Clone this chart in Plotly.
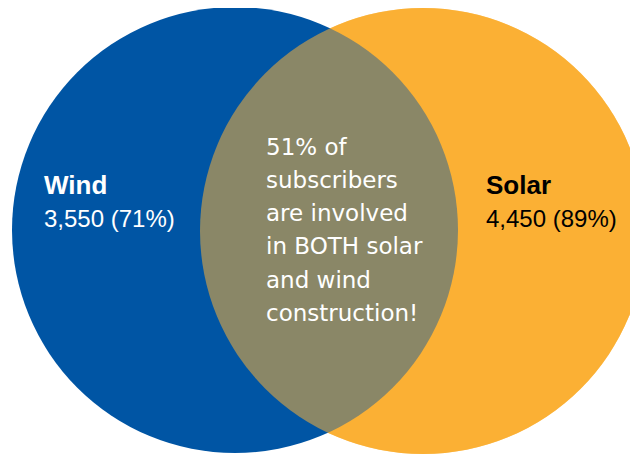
import plotly.graph_objects as go

W, H = 638, 454
OFF = 8  # page body margin compensation

# Data
sets = ["Wind", "Solar"]
counts = ["3,550", "4,450"]
pcts = ["71%", "89%"]
overlap_lines = ["51% of", "subscribers", "are involved", "in BOTH solar", "and wind", "construction!"]

blue = "#0055A4"
orange = "#FBB034"

# geometry (pixels)
c_wind = (235, 230)
c_solar = (423, 231)
r = 223

fig = go.Figure()

def circ(c, color, opacity=1.0):
    return dict(type="circle", xref="x", yref="y",
                x0=c[0] - r, x1=c[0] + r, y0=c[1] - r, y1=c[1] + r,
                fillcolor=color, opacity=opacity, line=dict(width=0), layer="below")

fig.add_shape(circ(c_solar, orange))
fig.add_shape(circ(c_wind, blue))
fig.add_shape(circ(c_solar, orange, 0.55))

side_font = "Liberation Sans, Arial, sans-serif"
center_font = "DejaVu Sans, sans-serif"

label_pos = [(42, "white"), (484, "black")]
for i, name in enumerate(sets):
    x, col = label_pos[i]
    fig.add_annotation(x=x, y=185, text="<b>%s</b>" % name, showarrow=False,
                       xanchor="left", yanchor="middle",
                       font=dict(family=side_font, size=26, color=col))
    fig.add_annotation(x=x, y=218, text="%s (%s)" % (counts[i], pcts[i]), showarrow=False,
                       xanchor="left", yanchor="middle",
                       font=dict(family=side_font, size=24, color=col))

for k, line in enumerate(overlap_lines):
    fig.add_annotation(x=264, y=146.5 + k * 33.3, text=line, showarrow=False,
                       xanchor="left", yanchor="middle",
                       font=dict(family=center_font, size=23, color="white"))

fig.add_trace(go.Scatter(x=[0, W], y=[0, H], mode="markers",
                         marker=dict(opacity=0), hoverinfo="skip", showlegend=False))

fig.update_layout(
    width=W, height=H, margin=dict(l=0, r=0, t=0, b=0),
    paper_bgcolor="white", plot_bgcolor="white",
    xaxis=dict(range=[OFF, W + OFF], visible=False, fixedrange=True),
    yaxis=dict(range=[H + OFF, OFF], visible=False, fixedrange=True),
    showlegend=False,
)

fig.write_html("out.html", config={"displayModeBar": False})
